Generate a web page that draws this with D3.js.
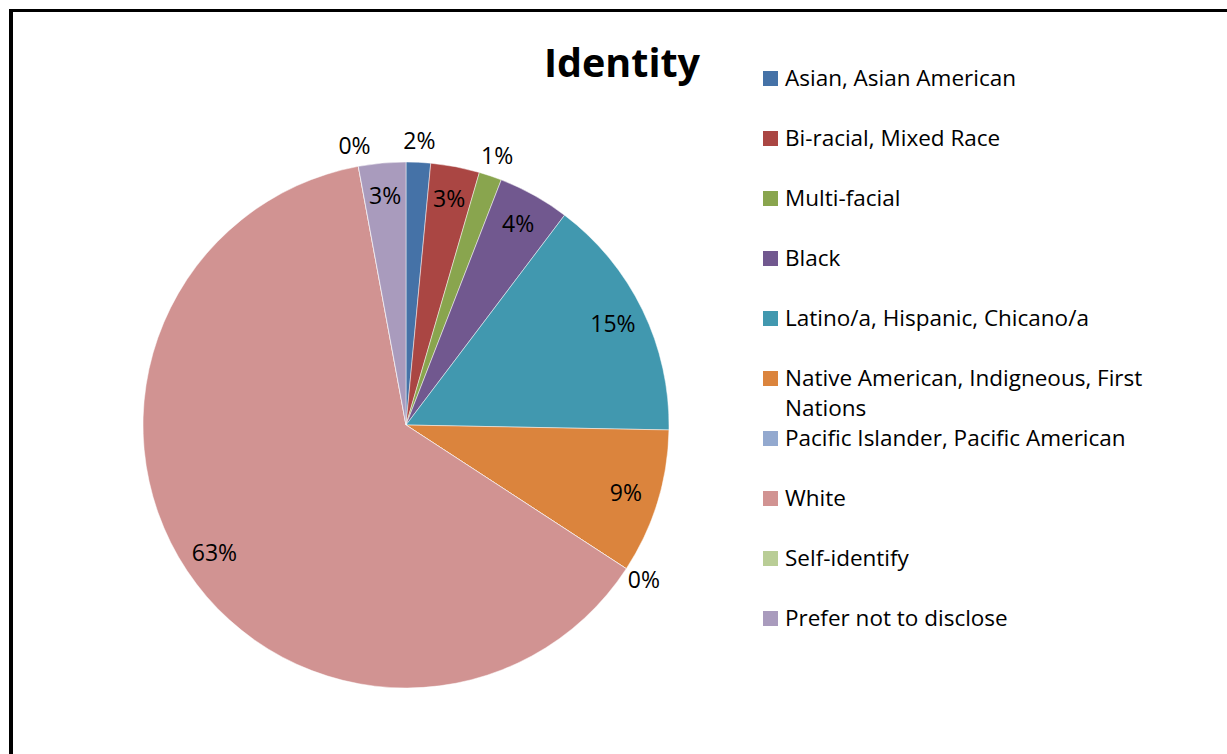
<!DOCTYPE html>
<html>
<head>
<meta charset="utf-8">
<script src="https://cdn.jsdelivr.net/npm/d3@7"></script>
<style>
  html, body { margin: 0; padding: 0; background: #fff; }
  svg { display: block; }
  text { font-family: "Open Sans", "Noto Sans", sans-serif; fill: #000; }
</style>
</head>
<body>
<svg id="chart" width="1227" height="754"></svg>
<script>
// Share of respondents by identity (percent)
const categories = [
  "Asian, Asian American",
  "Bi-racial, Mixed Race",
  "Multi-facial",
  "Black",
  "Latino/a, Hispanic, Chicano/a",
  "Native American, Indigneous, First Nations",
  "Pacific Islander, Pacific American",
  "White",
  "Self-identify",
  "Prefer not to disclose"
];
const shares = [1.5, 3.0, 1.4, 4.4, 15.0, 8.9, 0, 62.9, 0, 2.9];
const colors = [
  "#4572A7", "#AA4643", "#89A54E", "#71588F", "#4198AF",
  "#DB843D", "#93A9CF", "#D19392", "#B9CD96", "#A99BBD"
];
const chartTitle = "Identity";

const svg = d3.select("#chart");
const W = 1227, H = 754;

// Chart frame
svg.append("line").attr("x1", 11).attr("x2", 11).attr("y1", 9).attr("y2", H)
  .attr("stroke", "#000").attr("stroke-width", 4);
svg.append("line").attr("x1", 9).attr("x2", W).attr("y1", 10.5).attr("y2", 10.5)
  .attr("stroke", "#000").attr("stroke-width", 3);

// Title
svg.append("text")
  .attr("x", 622).attr("y", 77)
  .attr("text-anchor", "middle")
  .style("font-size", "39.5px").style("font-weight", "bold")
  .text(chartTitle);

// Pie
const cx = 406, cy = 425, R = 263;
const total = d3.sum(shares);
const data = categories.map((c, i) => ({ name: c, value: shares[i], color: colors[i] }));

const pie = d3.pie().value(d => d.value).sort(null);
const arcs = pie(data);
const arc = d3.arc().innerRadius(0).outerRadius(R);

const g = svg.append("g").attr("transform", `translate(${cx},${cy})`);
g.selectAll("path.slice")
  .data(arcs)
  .join("path")
  .attr("class", "slice")
  .attr("d", arc)
  .attr("fill", d => d.data.color)
  .attr("stroke", "#fff")
  .attr("stroke-opacity", 0.6)
  .attr("stroke-width", 0.8);

// Percentage labels: inside for larger slices, outside for thin ones
const inner = d3.arc().innerRadius(R * 0.875).outerRadius(R * 0.875);
const outer = d3.arc().innerRadius(R + 21).outerRadius(R + 21);
g.selectAll("text.pct")
  .data(arcs)
  .join("text")
  .attr("class", "pct")
  .attr("transform", d => {
    const share = d.data.value / total;
    const p = (share >= 0.025 ? inner : outer).centroid(d);
    return `translate(${p[0]},${p[1]})`;
  })
  .attr("text-anchor", "middle")
  .attr("dy", "0.35em")
  .style("font-size", "23px")
  .text(d => Math.round(d.data.value * 100 / total) + "%");

// Legend
const legend = svg.append("g").attr("transform", "translate(763,0)");
const rowY = d3.scalePoint().domain(categories).range([78, 618]);
const items = legend.selectAll("g.item")
  .data(data)
  .join("g")
  .attr("class", "item")
  .attr("transform", d => `translate(0,${rowY(d.name)})`);
items.append("rect")
  .attr("x", 0).attr("y", -7).attr("width", 15).attr("height", 15)
  .attr("fill", d => d.color);
items.append("text")
  .attr("x", 22).attr("y", 0).attr("dy", "0.35em")
  .style("font-size", "22.5px")
  .each(function (d) {
    const t = d3.select(this);
    if (d.name.startsWith("Native")) {
      t.append("tspan").attr("x", 22).text("Native American, Indigneous, First");
      t.append("tspan").attr("x", 22).attr("dy", "30").text("Nations");
    } else {
      t.text(d.name);
    }
  });
</script>
</body>
</html>
